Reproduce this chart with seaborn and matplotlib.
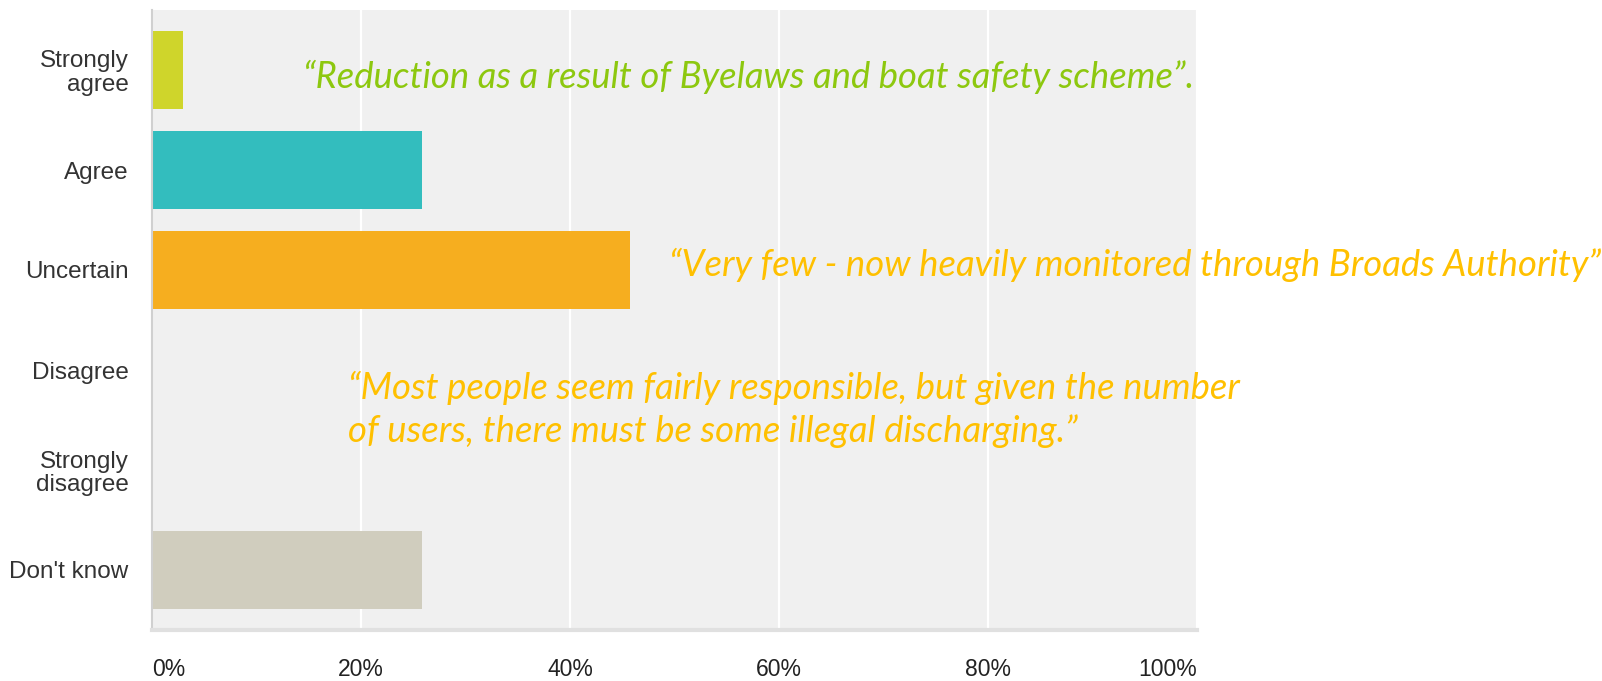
import numpy as np
import pandas as pd
import matplotlib
matplotlib.use('Agg')
import matplotlib.pyplot as plt
import seaborn as sns

# Dados (percentual de respostas)
categorias = ['Strongly\nagree', 'Agree', 'Uncertain', 'Disagree', 'Strongly\ndisagree', "Don't know"]
percentuais = [3.0, 25.8, 45.7, 0.0, 0.0, 25.8]
cores = ['#CFD52B', '#33BDBE', '#F6AE1F', '#E07B39', '#8E7CC3', '#D0CDBE']
ticks_x = [0, 20, 40, 60, 80, 100]
rotulos_x = ['0%', '20%', '40%', '60%', '80%', '100%']

citacao_1 = '\u201cReduction as a result of Byelaws and boat safety scheme\u201d.'
citacao_2 = '\u201cVery few - now heavily monitored through Broads Authority\u201d'
citacao_3 = ('\u201cMost people seem fairly responsible, but given the number\n'
             'of users, there must be some illegal discharging.\u201d')

df = pd.DataFrame({'resposta': categorias, 'pct': percentuais})

sns.set_style('whitegrid', {'axes.facecolor': '#F0F0F0', 'grid.color': 'white'})
plt.rcParams['font.family'] = ['Liberation Sans', 'DejaVu Sans']

fig = plt.figure(figsize=(16.02, 6.81), dpi=100)
ax = fig.add_axes([152 / 1602, 1 - 630 / 681, 1045 / 1602, 620 / 681])

sns.barplot(data=df, x='pct', y='resposta', hue='resposta', palette=cores,
            legend=False, width=0.78, orient='h', saturation=1, linewidth=0, ax=ax)

ax.set_xlim(0, 100)
ax.set_ylim(5.6, -0.6)
ax.set_xticks(ticks_x)
ax.set_xticklabels(rotulos_x)
ax.set_xlabel('')
ax.set_ylabel('')
ax.grid(axis='x', color='white', linewidth=1.6)
ax.grid(axis='y', visible=False)
ax.set_axisbelow(True)

for lado in ['top', 'right']:
    ax.spines[lado].set_visible(False)
ax.spines['left'].set_color('#D0D0D0')
ax.spines['left'].set_linewidth(1.5)
ax.spines['bottom'].set_color('#E0E0E0')
ax.spines['bottom'].set_linewidth(3)

ax.tick_params(axis='x', length=0, pad=20, labelsize=16.5, labelcolor='#222222')
ax.tick_params(axis='y', length=0, pad=17, labelsize=17.5, labelcolor='#333333')
for t in ax.get_yticklabels():
    t.set_linespacing(1.1)
xl = ax.get_xticklabels()
xl[0].set_ha('left')
xl[-1].set_ha('right')

# Citações (baseline = última linha do texto)
estilo = dict(fontsize=26.3, style='italic', family=['Lato', 'DejaVu Sans'], va='baseline', ha='left')
fig.text(303 / 1602, 1 - 88 / 681, citacao_1, color='#8DC80F', **estilo)
fig.text(669 / 1602, 1 - 276 / 681, citacao_2, color='#FFC000', **estilo)
fig.text(348 / 1602, 1 - 442 / 681, citacao_3, color='#FFC000', linespacing=1.34, **estilo)

plt.savefig('out.png', dpi=100)
